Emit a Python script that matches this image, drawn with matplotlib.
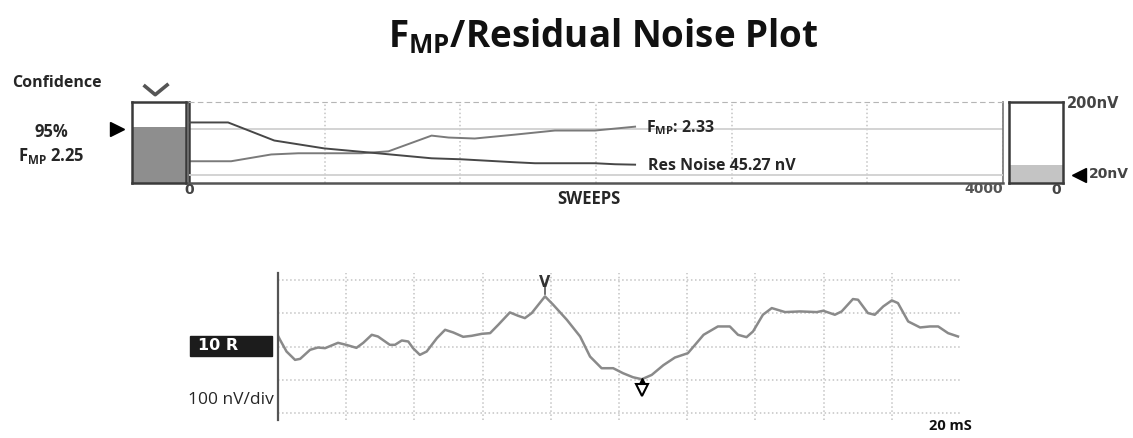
import matplotlib.pyplot as plt
from matplotlib.patches import Rectangle
import numpy as np

plt.rcParams['font.family'] = ['Open Sans', 'DejaVu Sans']
plt.rcParams['mathtext.fontset'] = 'custom'
plt.rcParams['mathtext.rm'] = 'Open Sans:bold'
plt.rcParams['mathtext.bf'] = 'Open Sans:bold'

W, H = 1133, 438

# F_MP / residual noise vs sweeps
fmp_sweeps = [0, 207, 404, 537, 847, 980, 1192, 1276, 1404, 1601, 1798, 1995, 2192]
fmp_vals = [0.90, 0.90, 1.18, 1.23, 1.23, 1.31, 1.96, 1.88, 1.84, 2.00, 2.17, 2.17, 2.33]
noise_sweeps = [0, 192, 419, 665, 931, 1192, 1340, 1601, 1700, 1995, 2094, 2192]
noise_vals = [149.5, 149.5, 104.9, 85.4, 73.2, 61.0, 58.5, 51.2, 48.8, 48.8, 46.3, 45.27]
fmp_final = 2.33
fmp_crit = 2.25
noise_final = 45.27
noise_target = 20
noise_max = 200
max_sweeps = 4000

# averaged waveform (ms, nV)
wave_ms = [0.0, 0.06, 0.25, 0.5, 0.65, 0.94, 1.17, 1.38, 1.76, 2.0, 2.3, 2.5, 2.75, 2.93,
           3.28, 3.43, 3.63, 3.82, 3.96, 4.16, 4.36, 4.66, 4.9, 5.14, 5.43, 5.68, 5.98,
           6.22, 6.46, 6.8, 7.04, 7.24, 7.44, 7.83, 8.07, 8.47, 8.86, 9.15, 9.49, 9.83,
           10.12, 10.41, 10.67, 10.96, 11.3, 11.64, 12.02, 12.23, 12.48, 12.9, 13.25,
           13.49, 13.74, 13.93, 14.22, 14.48, 14.87, 15.31, 15.8, 15.99, 16.33, 16.53,
           16.86, 17.01, 17.3, 17.5, 17.75, 18.0, 18.18, 18.48, 18.83, 19.12, 19.36,
           19.65, 19.94]
wave_nv = [32, 20, -15, -40, -37, -10, -3, -5, 11, 5, -4, 11, 35, 30,
           5, 5, 18, 15, -5, -25, -15, 25, 50, 42, 29, 32, 38,
           40, 65, 102, 92, 85, 100, 150, 125, 80, 30, -30, -65, -65,
           -80, -92, -98, -85, -56, -33, -20, 5, 35, 60, 60,
           35, 28, 45, 95, 115, 103, 105, 103, 107, 95, 105,
           142, 140, 100, 95, 120, 138, 130, 75, 57, 60, 60,
           40, 30]


def box(x0, y0, x1, y1):
    return [x0 / W, 1 - y1 / H, (x1 - x0) / W, (y1 - y0) / H]


def fx(x):
    return x / W


def fy(y):
    return 1 - y / H


dark = '#262626'
fig = plt.figure(figsize=(W / 100, H / 100), dpi=100)

fig.text(fx(603), fy(37), r'$\mathbf{F_{MP}}$/Residual Noise Plot', ha='center', va='center',
         fontsize=26.5, fontweight='bold', color='#111111')

# confidence box
axc = fig.add_axes(box(132, 102, 186, 183))
axc.bar([0], [fmp_final], width=1, color='#8e8e8e')
axc.set_xlim(-0.5, 0.5)
axc.set_ylim(0, 3.35)
axc.set_xticks([])
axc.set_yticks([])
for s in axc.spines.values():
    s.set_color('#3a3a3a')
    s.set_linewidth(1.8)
axc.plot([-0.77], [fmp_crit], marker='>', color='black', ms=10, clip_on=False)
axc.plot([0.24, 0.43, 0.65], [1.195, 1.09, 1.21], color='#555555', lw=2.6,
         transform=axc.transAxes, clip_on=False)
fig.text(fx(12), fy(83), 'Confidence', ha='left', va='center', fontsize=11.5,
         fontweight='bold', color=dark)
fig.text(fx(51), fy(132), '95%', ha='center', va='center', fontsize=12,
         fontweight='bold', color=dark)
fig.text(fx(51), fy(156), r'F$_{\mathrm{MP}}$ 2.25', ha='center', va='center', fontsize=12,
         fontweight='bold', color=dark)

# sweeps plot
ax = fig.add_axes(box(189, 102, 1003, 183))
ax.set_xlim(0, max_sweeps)
ax.set_ylim(0, 3.35)
ax.set_xticks(np.linspace(0, max_sweeps, 7))
ax.grid(axis='x', ls=':', color='#c4c4c4', lw=1.1)
ax.tick_params(length=0, labelbottom=False, labelleft=False)
ax.axhline(fmp_crit, color='#d0d0d0', lw=1.3)
ax.plot(fmp_sweeps, fmp_vals, color='#7a7a7a', lw=1.4)
ax.spines['top'].set_linestyle((0, (4, 4)))
ax.spines['top'].set_color('#b5b5b5')
ax.spines['left'].set_color('#3a3a3a')
ax.spines['left'].set_linewidth(1.8)
ax.spines['bottom'].set_color('#555555')
ax.spines['bottom'].set_linewidth(1.8)
ax.spines['right'].set_color('#777777')
ax.spines['right'].set_linewidth(1.2)

ax2 = ax.twinx()
ax2.set_ylim(0, noise_max)
ax2.axhline(noise_target, color='#d0d0d0', lw=1.3)
ax2.plot(noise_sweeps, noise_vals, color='#474747', lw=1.4)
ax2.tick_params(length=0, labelright=False)
for s in ax2.spines.values():
    s.set_visible(False)

ax.annotate(r'F$_{\mathrm{MP}}$: 2.33', xy=(fmp_sweeps[-1], fmp_vals[-1]), xytext=(8, -1),
            textcoords='offset points', va='center', ha='left', fontsize=11.5,
            fontweight='bold', color=dark)
ax2.annotate('Res Noise 45.27 nV', xy=(noise_sweeps[-1], noise_vals[-1]), xytext=(9, -1),
             textcoords='offset points', va='center', ha='left', fontsize=11.5,
             fontweight='bold', color=dark)

fig.text(fx(189), fy(190), '0', ha='center', va='center', fontsize=10,
         family='DejaVu Sans', fontweight='bold', color='#444444')
fig.text(fx(1003), fy(189), '4000', ha='right', va='center', fontsize=10,
         family='DejaVu Sans', fontweight='bold', color='#555555')
fig.text(fx(589), fy(199), 'SWEEPS', ha='center', va='center', fontsize=12,
         fontweight='bold', color=dark)

# residual noise box
axn = fig.add_axes(box(1009, 102, 1063, 183))
axn.bar([0], [noise_final], width=1, color='#c4c4c4')
axn.set_xlim(-0.5, 0.5)
axn.set_ylim(0, noise_max)
axn.set_xticks([])
axn.set_yticks([])
for s in axn.spines.values():
    s.set_color('#3a3a3a')
    s.set_linewidth(1.8)
axn.plot([0.79], [noise_target], marker='<', color='black', ms=10, clip_on=False)
fig.text(fx(1067), fy(104), '200nV', ha='left', va='center', fontsize=10.5,
         family='DejaVu Sans', fontweight='bold', color='#444444')
fig.text(fx(1089), fy(174), '20nV', ha='left', va='center', fontsize=10,
         family='DejaVu Sans', fontweight='bold', color='#444444')
fig.text(fx(1056), fy(190), '0', ha='center', va='center', fontsize=10,
         family='DejaVu Sans', fontweight='bold', color='#444444')

# waveform
axw = fig.add_axes(box(278, 273, 960, 420))
axw.set_xlim(0, 20)
axw.set_ylim(-220, 220)
axw.set_xticks(np.arange(2, 20, 2))
axw.set_yticks([-200, -100, 0, 100, 200])
axw.grid(ls=':', color='#c4c4c4', lw=1.1)
axw.tick_params(length=0, labelbottom=False, labelleft=False)
for k in ['top', 'right', 'bottom']:
    axw.spines[k].set_visible(False)
axw.spines['left'].set_color('#555555')
axw.spines['left'].set_linewidth(1.6)
axw.plot(wave_ms, wave_nv, color='#8a8a8a', lw=1.8, solid_joinstyle='round')

ip = int(np.argmax(wave_nv))
axw.plot([wave_ms[ip], wave_ms[ip]], [wave_nv[ip] + 6, wave_nv[ip] + 27], color='#555555', lw=1.2)
axw.text(wave_ms[ip], wave_nv[ip] + 42, 'V', ha='center', va='center', fontsize=10.5,
         family='DejaVu Sans', fontweight='bold', color='#333333')
it = int(np.argmin(wave_nv))
axw.plot([wave_ms[it]], [wave_nv[it] - 8], marker='^', color='black', ms=6, clip_on=False)
axw.plot([wave_ms[it]], [wave_nv[it] - 31], marker='v', mfc='white', mec='black', mew=1.5,
         ms=9, clip_on=False)

fig.patches.append(Rectangle((fx(190), fy(356)), 82 / W, 20 / H, transform=fig.transFigure,
                             color='#1c1c1c'))
fig.text(fx(198), fy(346), '10 R', ha='left', va='center', fontsize=11.5,
         family='DejaVu Sans', fontweight='bold', color='white')
fig.text(fx(188), fy(400), '100 nV/div', ha='left', va='center', fontsize=12.5, color=dark)
fig.text(fx(950), fy(426), '20 mS', ha='center', va='center', fontsize=10.5,
         fontweight='bold', color='#111111')

fig.savefig('out.png', dpi=100)
